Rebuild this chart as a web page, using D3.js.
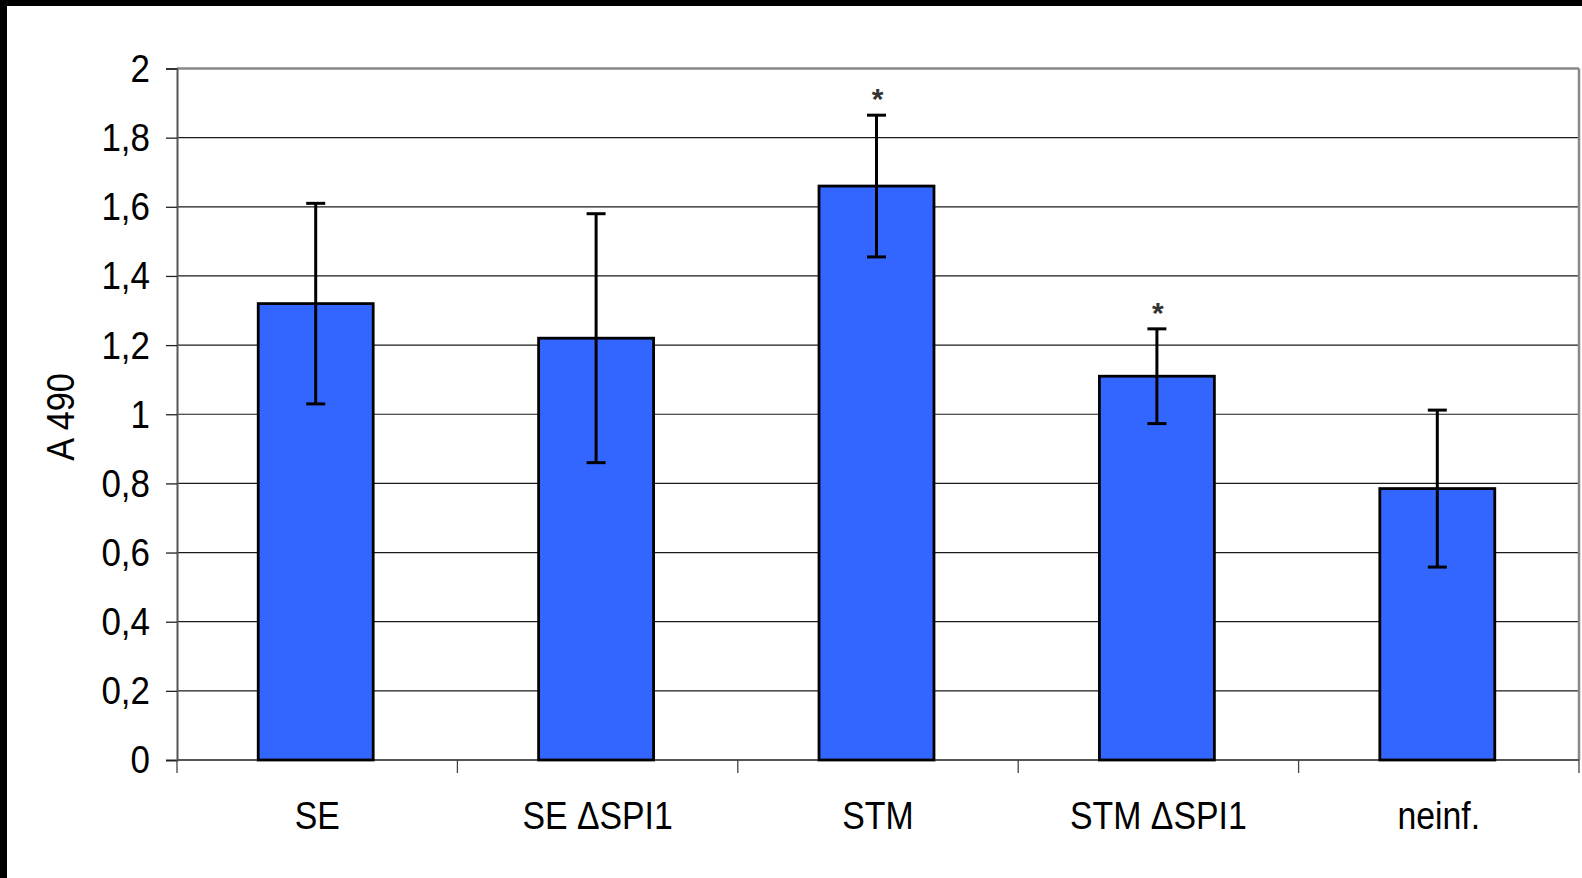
<!DOCTYPE html>
<html>
<head>
<meta charset="utf-8">
<script src="https://cdn.jsdelivr.net/npm/d3@7"></script>
<style>
  body { margin: 0; background: #fff; }
  text { font-family: "Liberation Sans", Arial, sans-serif; fill: #000; }
</style>
</head>
<body>
<script>
// Data
var categories = ["SE", "SE \u0394SPI1", "STM", "STM \u0394SPI1", "neinf."];
var means = [1.32, 1.22, 1.66, 1.11, 0.785];
var errors = [0.29, 0.36, 0.205, 0.137, 0.227];
var marked = [false, false, true, true, false];
var yTicks = [0, 0.2, 0.4, 0.6, 0.8, 1, 1.2, 1.4, 1.6, 1.8, 2];

var W = 1582, H = 878;
// plot area edges (note: "top" is a reserved window property)
var plotL = 177, plotR = 1579, plotT = 68.5, plotB = 760;

var svg = d3.select("body").append("svg")
    .attr("width", W)
    .attr("height", H);

svg.append("rect").attr("width", W).attr("height", H).attr("fill", "#fff");
// black frame on top and left
svg.append("rect").attr("x", 0).attr("y", 0).attr("width", W).attr("height", 6).attr("fill", "#000");
svg.append("rect").attr("x", 0).attr("y", 0).attr("width", 7).attr("height", H).attr("fill", "#000");

var x = d3.scaleBand().domain(categories).range([plotL, plotR]);
var y = d3.scaleLinear().domain([0, 2]).range([plotB, plotT]);

// squeeze text horizontally, like the narrow font of the original
function narrow(sel, k) {
    sel.each(function () {
        d3.select(this).attr("textLength", this.getComputedTextLength() * k)
            .attr("lengthAdjust", "spacingAndGlyphs");
    });
}

// grid lines
svg.append("g")
    .selectAll("line")
    .data(yTicks.filter(function (d) { return d > 0 && d < 2; }))
    .enter().append("line")
    .attr("x1", plotL).attr("x2", plotR)
    .attr("y1", function (d) { return y(d); })
    .attr("y2", function (d) { return y(d); })
    .attr("stroke", "#1a1a1a")
    .attr("stroke-width", 1.2);

// plot area border (top and right)
svg.append("line").attr("x1", plotL).attr("x2", plotR).attr("y1", y(2)).attr("y2", y(2))
    .attr("stroke", "#888").attr("stroke-width", 2.5);
svg.append("line").attr("x1", plotR).attr("x2", plotR).attr("y1", y(2)).attr("y2", y(0))
    .attr("stroke", "#888").attr("stroke-width", 2.5);

function fmt(d) { return String(d3.format("~g")(d)).replace(".", ","); }

// Y axis
var yAxis = svg.append("g")
    .attr("transform", "translate(" + plotL + ",0)")
    .call(d3.axisLeft(y).tickValues(yTicks).tickFormat(fmt).tickSize(11).tickPadding(16));
yAxis.select(".domain").attr("stroke", "#555").attr("stroke-width", 2);
yAxis.selectAll(".tick line").attr("stroke", "#222").attr("stroke-width", 1.3);
yAxis.selectAll("text")
    .style("font-size", "38px")
    .attr("dy", "0.34em")
    .call(narrow, 0.92);

// X axis
var tickPos = d3.range(categories.length + 1).map(function (i) { return plotL + i * x.step(); });
var xAxis = svg.append("g");
xAxis.append("line").attr("x1", plotL).attr("x2", plotR).attr("y1", plotB).attr("y2", plotB)
    .attr("stroke", "#555").attr("stroke-width", 2);
xAxis.selectAll(".xt")
    .data(tickPos)
    .enter().append("line")
    .attr("class", "xt")
    .attr("x1", function (d) { return d; }).attr("x2", function (d) { return d; })
    .attr("y1", plotB).attr("y2", plotB + 13)
    .attr("stroke", "#444").attr("stroke-width", 1.3);
xAxis.selectAll(".xl")
    .data(categories)
    .enter().append("text")
    .attr("class", "xl")
    .attr("x", function (d) { return x(d) + x.bandwidth() / 2; })
    .attr("y", 829)
    .attr("text-anchor", "middle")
    .style("font-size", "38px")
    .text(function (d) { return d; })
    .call(narrow, 0.89);

// Y title
svg.append("text")
    .attr("transform", "translate(74,417) rotate(-90)")
    .attr("text-anchor", "middle")
    .style("font-size", "38px")
    .text("A 490")
    .call(narrow, 0.9);

// bars
var barW = x.bandwidth() * 0.41;
svg.append("g")
    .selectAll("rect")
    .data(categories)
    .enter().append("rect")
    .attr("x", function (d) { return x(d) + x.bandwidth() / 2 - barW / 2 - 1.5; })
    .attr("y", function (d, i) { return y(means[i]); })
    .attr("width", barW)
    .attr("height", function (d, i) { return y(0) - y(means[i]); })
    .attr("fill", "#3366FF")
    .attr("stroke", "#000")
    .attr("stroke-width", 2.8);

// error bars
var err = svg.append("g").attr("stroke", "#000").attr("stroke-width", 3);
categories.forEach(function (c, i) {
    var cx = x(c) + x.bandwidth() / 2 - 1.5;
    var hi = y(means[i] + errors[i]), lo = y(means[i] - errors[i]);
    err.append("line").attr("x1", cx).attr("x2", cx).attr("y1", hi).attr("y2", lo);
    err.append("line").attr("x1", cx - 9.5).attr("x2", cx + 9.5).attr("y1", hi).attr("y2", hi);
    err.append("line").attr("x1", cx - 9.5).attr("x2", cx + 9.5).attr("y1", lo).attr("y2", lo);
    if (marked[i]) {
        svg.append("text")
            .attr("x", cx + 1)
            .attr("y", hi - 6)
            .attr("text-anchor", "middle")
            .style("font-size", "30px")
            .style("font-weight", "bold")
            .style("fill", "#333")
            .text("*");
    }
});
</script>
</body>
</html>
